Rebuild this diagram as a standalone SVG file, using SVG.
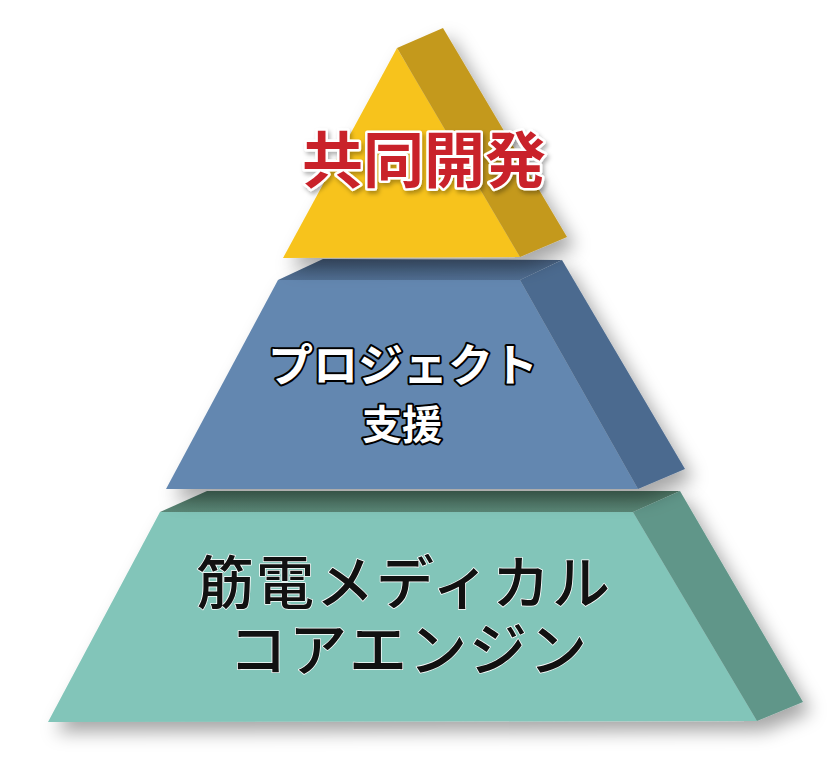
<svg xmlns="http://www.w3.org/2000/svg" width="840" height="764" viewBox="0 0 840 764">
  <defs>
    <filter id="shadow" x="-20%" y="-20%" width="150%" height="150%">
      <feDropShadow dx="8" dy="10" stdDeviation="9" flood-color="#000" flood-opacity="0.35"/>
    </filter>
    <filter id="textShadow" x="-10%" y="-20%" width="120%" height="150%">
      <feDropShadow dx="2" dy="3" stdDeviation="2" flood-color="#000" flood-opacity="0.3"/>
    </filter>
    <linearGradient id="blueTop" x1="0" y1="0" x2="0" y2="1">
      <stop offset="0" stop-color="#46607F"/>
      <stop offset="1" stop-color="#516E92"/>
    </linearGradient>
    <linearGradient id="greenTop" x1="0" y1="0" x2="0" y2="1">
      <stop offset="0" stop-color="#4C7463"/>
      <stop offset="1" stop-color="#5A8676"/>
    </linearGradient>
    <style>
      .jp { font-family: "Noto Sans CJK JP", "Noto Sans CJK SC", sans-serif; text-anchor: middle; paint-order: stroke; stroke-linejoin: round; }
      .red { fill: #C9222B; stroke: #FFFFFF; stroke-width: 5; font-weight: 700; }
      .white { fill: #FFFFFF; stroke: #000000; stroke-width: 4; font-weight: 700; }
      .black { fill: #111111; stroke: #FFFFFF; stroke-width: 1.5; font-weight: 500; letter-spacing: 2px; }
    </style>
  </defs>
  <rect width="840" height="764" fill="#FFFFFF"/>

  <g id="tier-base">
    <g filter="url(#shadow)">
      <polygon points="160,512 633,512 757,721 48,722" fill="#82C5B9"/>
      <polygon points="160,512 207,491 680,491 633,512" fill="url(#greenTop)"/>
      <polygon points="633,512 680,491 803,702 757,721" fill="#609689"/>
    </g>
    <text class="jp black" font-size="58"><tspan x="404" y="604">筋電メディカル</tspan><tspan x="409" y="671">コアエンジン</tspan></text>
  </g>

  <g id="tier-middle">
    <g filter="url(#shadow)">
      <polygon points="278,280 520,280 638,489 166,489" fill="#6387B0"/>
      <polygon points="278,280 323,259 562,260 520,280" fill="url(#blueTop)"/>
      <polygon points="520,280 562,260 685,469 638,489" fill="#4B6A8F"/>
    </g>
    <text class="jp white" x="403" y="382" font-size="45">プロジェクト</text>
    <text class="jp white" x="402" y="439" font-size="40">支援</text>
  </g>

  <g id="tier-top">
    <g filter="url(#shadow)">
      <polygon points="397,48 520,257 283,258" fill="#F7C31F"/>
      <polygon points="397,48 443,28 567,237 520,257" fill="#C4991E"/>
    </g>
    <text class="jp red" x="424" y="183" font-size="61" filter="url(#textShadow)">共同開発</text>
  </g>

  <g id="connectors"/>
</svg>
